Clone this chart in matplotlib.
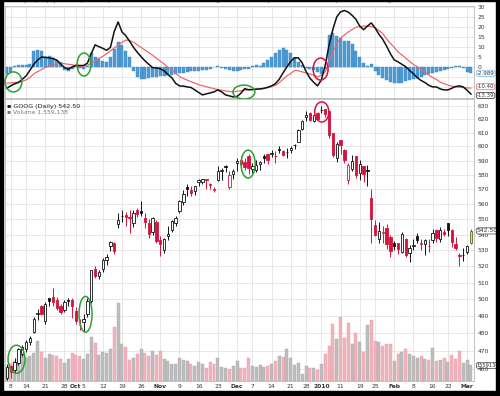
import matplotlib.pyplot as plt
from matplotlib.patches import Rectangle, Ellipse
from matplotlib.ticker import NullLocator

# daily GOOG bars, 4-Sep-2009 .. 2-Mar-2010 (index = trading day)
opens = [455.1, 461.5, 459.5, 463.5, 468.5, 471.0, 475.0, 481.0, 491.0, 496.0,
         487.0, 500.5, 501.5, 499.5, 496.0, 493.5, 499.5, 499.5, 493.0, 485.0,
         486.5, 491.0, 499.0, 518.5, 514.0, 518.5, 524.0, 532.5, 534.5, 547.3,
         552.5, 553.0, 551.5, 547.5, 556.0, 555.8, 551.0, 547.5, 541.5, 548.5,
         536.5, 530.0, 539.0, 543.0, 547.5, 555.5, 561.5, 572.0, 569.5, 569.0,
         575.0, 574.9, 576.9, 573.8, 569.5, 576.5, 582.5, 586.0, 572.0, 580.5,
         588.0, 590.5, 589.0, 593.0, 584.0, 583.5, 587.5, 593.5, 594.5, 595.0,
         593.5, 598.5, 596.5, 596.0, 597.5, 601.0, 603.5, 612.5, 621.5, 624.5,
         618.5, 624.5, 626.9, 627.2, 625.9, 609.4, 592.0, 604.5, 597.7, 576.5,
         583.9, 593.3, 581.2, 585.9, 583.4, 564.5, 546.6, 537.0, 541.3, 544.5,
         538.5, 534.6, 535.0, 528.7, 537.0, 528.4, 532.5, 539.5, 534.1, 534.0,
         533.0, 536.9, 543.0, 537.5, 541.5, 547.4, 543.0, 534.0, 527.1, 527.4,
         529.2, 535.0]
highs = [462.6, 462.0, 466.0, 472.0, 473.5, 476.5, 478.5, 489.5, 494.0, 496.5,
         498.5, 501.0, 507.0, 501.5, 497.0, 499.5, 501.0, 500.5, 495.5, 488.5,
         491.0, 500.5, 517.8, 520.0, 518.0, 525.0, 527.5, 536.0, 535.5, 554.5,
         556.0, 555.0, 556.5, 556.0, 557.5, 562.0, 554.5, 550.0, 551.5, 549.5,
         539.5, 538.0, 545.5, 549.5, 552.0, 563.0, 569.5, 573.5, 572.5, 572.5,
         577.0, 577.5, 577.5, 574.5, 571.5, 586.5, 584.5, 587.0, 582.5, 584.0,
         591.5, 593.5, 591.5, 595.0, 588.5, 590.5, 589.5, 595.0, 595.0, 597.5,
         596.5, 600.5, 597.5, 599.0, 600.0, 601.5, 613.0, 619.0, 626.0, 625.0,
         622.8, 625.5, 629.5, 627.8, 625.9, 610.0, 603.2, 604.5, 598.2, 588.4,
         594.2, 593.3, 590.4, 585.9, 586.8, 570.6, 549.9, 548.6, 546.0, 547.0,
         540.0, 535.8, 535.0, 542.1, 538.0, 533.5, 537.1, 541.0, 537.1, 537.0,
         537.2, 544.0, 543.6, 545.0, 544.0, 547.5, 543.6, 538.4, 528.5, 531.8,
         533.5, 544.0]
lows = [454.3, 455.0, 458.5, 462.5, 467.5, 469.5, 473.5, 480.0, 488.0, 490.5,
        485.5, 496.0, 496.0, 493.5, 491.0, 492.5, 496.0, 489.0, 485.5, 482.0,
        481.5, 489.5, 498.0, 513.0, 512.0, 516.5, 521.0, 529.5, 527.5, 544.5,
        548.0, 546.0, 541.0, 545.0, 551.5, 552.5, 544.5, 538.0, 540.0, 534.5,
        526.5, 528.5, 536.5, 542.0, 545.5, 554.0, 559.5, 565.5, 565.5, 566.5,
        572.5, 573.5, 570.0, 570.0, 568.0, 575.5, 576.5, 582.0, 570.5, 577.0,
        583.0, 586.0, 583.5, 580.5, 581.0, 582.0, 583.5, 588.5, 587.5, 592.5,
        588.5, 595.5, 593.0, 592.0, 595.5, 598.5, 603.0, 612.0, 618.5, 618.5,
        618.0, 619.5, 624.2, 621.5, 606.4, 592.6, 589.1, 594.3, 588.0, 573.9,
        582.8, 578.0, 576.3, 575.3, 572.3, 534.9, 539.3, 535.0, 534.7, 530.6,
        525.6, 530.3, 527.6, 528.2, 525.6, 522.5, 530.0, 535.0, 530.0, 527.0,
        529.0, 534.6, 535.6, 535.1, 539.0, 539.1, 532.3, 530.4, 520.0, 523.5,
        527.5, 534.0]
closes = [461.3, 458.6, 464.0, 470.9, 472.1, 475.1, 477.5, 488.3, 491.7, 491.5,
          497.0, 499.1, 498.5, 494.5, 492.5, 498.5, 498.7, 495.9, 487.2, 484.6,
          488.5, 498.7, 517.5, 514.2, 516.3, 524.0, 526.1, 535.3, 529.9, 549.9,
          552.1, 551.7, 551.1, 554.1, 553.7, 554.2, 548.3, 540.3, 551.1, 536.1,
          534.0, 537.3, 540.3, 548.7, 551.1, 562.5, 566.8, 570.6, 567.9, 572.1,
          576.3, 577.5, 576.7, 573.0, 570.0, 582.4, 583.1, 585.7, 579.8, 583.0,
          589.9, 587.5, 585.7, 585.0, 586.3, 587.1, 589.0, 591.5, 590.5, 595.7,
          593.1, 597.8, 593.9, 596.4, 598.7, 601.1, 611.7, 618.5, 622.9, 619.4,
          622.7, 620.0, 626.8, 624.0, 608.3, 594.1, 602.0, 601.1, 590.5, 587.1,
          589.9, 580.0, 587.6, 580.4, 583.0, 550.0, 540.0, 542.4, 542.1, 534.3,
          529.9, 533.0, 531.1, 540.8, 526.8, 531.3, 533.5, 536.4, 534.5, 536.4,
          533.1, 541.3, 538.2, 543.2, 540.8, 542.8, 535.1, 531.5, 526.4, 526.8,
          532.7, 542.5]
prev_close = 455.0
volumes = [1.3, 1.8, 2.0, 2.3, 2.7, 2.3, 2.5, 2.8, 4.0, 2.9,
           2.3, 2.7, 2.6, 2.5, 2.2, 1.8, 2.2, 2.8, 2.6, 2.5,
           2.2, 2.7, 4.4, 3.8, 2.6, 2.9, 2.8, 3.2, 5.4, 7.8,
           3.7, 3.4, 2.1, 2.3, 2.7, 3.2, 2.8, 2.5, 3.0, 2.6,
           3.0, 2.2, 2.0, 1.7, 1.7, 2.3, 2.1, 2.0, 1.7, 1.5,
           1.9, 1.7, 1.3, 1.9, 1.7, 2.3, 1.4, 1.3, 1.2, 1.5,
           2.0, 1.3, 1.3, 2.3, 1.5, 1.4, 1.6, 1.4, 1.5, 1.7,
           2.0, 2.5, 2.4, 3.2, 2.3, 1.6, 1.8, 0.7, 1.5, 1.3,
           1.3, 1.1, 1.7, 2.7, 3.5, 5.7, 4.2, 6.4, 4.3, 5.8,
           3.7, 4.8, 3.9, 2.9, 5.6, 6.1, 4.0, 3.9, 3.5, 3.7,
           3.7, 2.0, 2.7, 2.9, 3.2, 2.7, 2.5, 2.3, 2.5, 2.2,
           2.1, 3.3, 2.0, 2.1, 2.3, 1.9, 2.6, 2.2, 3.0, 1.8,
           2.1, 1.559138]

macd = [-10.5, -9.2, -8.3, -7.6, -6.0, -4.3, -1.5, 1.5, 3.6, 5.1,
        5.0, 4.7, 4.4, 3.6, 1.7, -0.1, -1.0, 0.2, 1.0, 0.9,
        0.9, 2.1, 6.9, 11.2, 10.3, 9.5, 8.5, 10.0, 18.0, 22.7,
        17.7, 15.8, 13.0, 10.0, 7.5, 5.3, 3.2, 1.5, -0.2, -0.3,
        -0.7, -1.8, -3.7, -5.2, -8.0, -9.3, -9.4, -9.8, -10.1, -11.3,
        -12.6, -13.8, -13.3, -12.8, -12.3, -11.3, -12.3, -13.8, -14.3, -14.8,
        -14.6, -13.0, -10.7, -11.2, -11.1, -10.9, -10.8, -10.5, -10.0, -9.3,
        -8.2, -6.0, -2.8, 0.2, 2.9, 4.8, 4.7, 2.2, -2.1, -5.4,
        -7.5, -9.3, -6.3, 1.0, 11.0, 19.0, 25.2, 27.7, 28.4, 27.6,
        26.0, 24.0, 20.6, 18.8, 20.6, 22.2, 19.7, 16.5, 14.0, 10.6,
        6.8, 3.7, 2.7, 1.5, 0.3, -1.6, -3.2, -5.2, -6.6, -7.6,
        -9.0, -9.8, -9.8, -10.8, -11.3, -11.3, -10.5, -9.6, -9.3, -9.8,
        -11.5, -13.39]
signal = [-7.9, -7.8, -7.6, -7.4, -7.0, -6.3, -5.1, -3.3, -2.2, -1.1,
          -0.1, 0.5, 1.1, 2.0, 2.0, 1.8, 1.5, 1.3, 0.8, 0.3,
          0.6, 1.1, 1.9, 3.0, 4.5, 5.5, 6.8, 8.2, 9.7, 11.0,
          12.5, 13.6, 13.4, 12.5, 11.2, 9.9, 8.6, 7.3, 6.0, 4.5,
          3.1, 1.6, 0.0, -1.5, -3.0, -4.6, -5.6, -6.4, -7.2, -7.9,
          -8.7, -9.2, -9.7, -10.2, -10.7, -11.1, -11.5, -11.8, -12.1, -12.3,
          -12.0, -11.7, -11.4, -11.3, -11.2, -11.1, -10.9, -10.6, -10.2, -9.7,
          -9.0, -7.7, -6.0, -4.3, -3.1, -1.6, -1.7, -2.3, -2.8, -3.3,
          -4.0, -4.7, -4.0, -2.3, 2.0, 7.6, 11.8, 14.6, 16.2, 17.6,
          18.8, 20.0, 20.3, 20.6, 20.6, 20.4, 19.8, 18.4, 16.9, 14.2,
          12.0, 10.0, 7.6, 6.2, 4.6, 3.0, 1.4, 0.4, -1.1, -2.4,
          -3.9, -5.1, -6.1, -7.4, -8.2, -8.9, -9.4, -9.8, -10.0, -10.1,
          -10.3, -10.40]
hist = [-3.5, -2.5, 0.5, 1.0, 1.0, 1.0, 1.5, 8.0, 8.5, 8.0,
        5.0, 5.5, 4.5, 3.5, 2.5, -1.5, -2.0, -1.0, 0.5, -0.5,
        -1.0, 0.5, 7.0, 5.0, 4.0, 3.0, 2.5, 5.0, 9.0, 12.5,
        11.0, 8.0, 5.0, -2.0, -5.0, -6.0, -6.0, -5.5, -5.0, -5.0,
        -4.5, -4.5, -4.0, -4.0, -3.5, -3.0, -3.0, -2.5, -2.0, -2.0,
        -2.0, -1.5, -1.5, -1.0, 0.0, 0.5, -0.5, -1.0, -1.5, -2.0,
        -2.0, -1.5, -1.0, -1.0, 0.5, 1.0, 0.5, 2.0, 3.5, 5.0,
        7.0, 8.5, 9.5, 8.5, 7.0, 4.5, 2.5, 1.0, -0.5, -1.0,
        -1.5, -2.5, -3.5, -1.0, 16.0, 17.0, 15.5, 14.5, 13.0, 13.0,
        11.5, 8.0, 5.0, 2.0, 0.5, 1.5, -2.0, -4.0, -5.5, -6.5,
        -7.5, -8.0, -8.0, -8.0, -7.0, -6.5, -6.0, -5.5, -5.0, -4.0,
        -3.5, -3.0, -2.5, -2.0, -1.5, -1.0, -0.5, 0.5, 0.5, -0.5,
        -2.5, -2.989]

tick_days = [1, 5, 10, 15, 18, 20, 25, 30, 35, 40, 45, 50, 55, 60, 64, 69, 74,
             78, 82, 87, 92, 96, 101, 106, 111, 115, 120]
tick_labels = ['8', '14', '21', '28', 'Oct', '5', '12', '19', '26', 'Nov', '9',
               '16', '23', 'Dec', '7', '14', '21', '28', '2010', '11', '19',
               '25', 'Feb', '8', '16', '22', 'Mar']
month_labels = ['Oct', 'Nov', 'Dec', '2010', 'Feb', 'Mar']
price_ticks = list(range(460, 631, 10))
macd_ticks = list(range(-10, 31, 5))

# annotation circles: (day, value, width in days, height in value units, colour)
macd_circles = [(1.7, -7.3, 4.4, 10.0, 'g'), (20.1, 1.4, 3.6, 11.5, 'g'),
                (61.8, -12.4, 5.7, 7.0, 'g'), (81.8, -0.9, 3.9, 11.0, 'r')]
price_circles = [(2.5, 465.5, 4.4, 15.6, 'g'), (20.5, 491.2, 3.4, 21.0, 'g'),
                 (62.9, 587.6, 3.7, 19.6, 'g'), (82.1, 625.3, 3.7, 15.0, 'r')]

RED = '#d3143c'
GREEN = '#2e9e37'
GRID = '#e3e3e3'
TXT = '#333333'
FS = 4.3
W, H = 500, 396

fig = plt.figure(figsize=(W / 100, H / 100), dpi=100)


def rect(left, top, right, bottom):
    return [left / W, 1 - bottom / H, (right - left) / W, (bottom - top) / H]


def value_box(axis, val, txt, ec, dy=0.0, size=FS):
    axis.annotate(txt, xy=(1.006, val), xycoords=axis.get_yaxis_transform(),
                  xytext=(0, dy), textcoords='offset points',
                  fontsize=size, color=TXT, va='center', ha='left',
                  annotation_clip=False,
                  bbox=dict(boxstyle='round,pad=0.1,rounding_size=0.4',
                            fc='white', ec=ec, lw=0.5))


ax_m = fig.add_axes(rect(5, 6, 474, 98))
ax_bg = fig.add_axes(rect(5, 99, 474, 381), zorder=0)
ax_v = fig.add_axes(rect(5, 99, 474, 381), zorder=1, facecolor='none')
ax = fig.add_axes(rect(5, 99, 474, 381), zorder=2, facecolor='none',
                  sharex=ax_bg, sharey=ax_bg)

idx = list(range(len(closes)))
xlim = (-0.5, 121.8)

# ---- price panel background / grid
ax_bg.set_yscale('log')
ax_bg.set_ylim(453.5, 635.0)
ax_bg.set_xlim(*xlim)
ax_bg.set_xticks(tick_days)
ax_bg.set_yticks(price_ticks)
ax_bg.yaxis.set_minor_locator(NullLocator())
ax_bg.grid(True, color=GRID, lw=0.6)
ax_bg.tick_params(labelleft=False, labelbottom=False, length=0)
for s in ax_bg.spines.values():
    s.set_color('#b8b8b8')
    s.set_linewidth(0.6)

# ---- volume
prevs = [prev_close] + closes[:-1]
up = [c >= p for c, p in zip(closes, prevs)]
vol_face = ['#bdbdbd' if u else '#f1b3bc' for u in up]
vol_edge = ['#a9a9a9' if u else '#e59aa5' for u in up]
ax_v.bar(idx, volumes, width=0.78, color=vol_face, edgecolor=vol_edge, lw=0.3)
ax_v.set_xlim(*xlim)
ax_v.set_ylim(0, 28.2)
ax_v.axis('off')
value_box(ax_v, volumes[-1], '1559138', '#444444', size=3.7)

# ---- candles
edge = ['#111111' if u else RED for u in up]
face = ['white' if c >= o else e for o, c, e in zip(opens, closes, edge)]
face[-1] = '#f0e04a'
edge[-1] = '#666633'
body_lo = [min(o, c) for o, c in zip(opens, closes)]
body_h = [abs(c - o) for o, c in zip(opens, closes)]
ax.vlines(idx, lows, highs, colors=edge, lw=0.7, zorder=2)
ax.bar(idx, body_h, bottom=body_lo, width=0.62, color=face, edgecolor=edge,
       lw=0.6, zorder=3)
for d, v, w, h, c in price_circles:
    ax.add_patch(Ellipse((d, v), w, h, fill=False, ec=GREEN if c == 'g' else RED,
                         lw=1.1, zorder=4, clip_on=False))

ax.yaxis.tick_right()
ax.set_yticks(price_ticks)
ax.set_yticklabels([str(p) for p in price_ticks])
ax.yaxis.set_minor_locator(NullLocator())
ax.set_xticks(tick_days)
ax.set_xticklabels(tick_labels)
ax.tick_params(axis='both', length=0, labelsize=FS, colors=TXT)
ax.tick_params(axis='y', pad=2.5)
ax.tick_params(axis='x', pad=1.8)
for lab in ax.get_xticklabels():
    if lab.get_text() in month_labels:
        lab.set_fontweight('bold')
for s in ax.spines.values():
    s.set_visible(False)

value_box(ax, closes[-1], '542.50', '#444444')
ax.text(0.004, 0.973, '\u25aa GOOG (Daily) 542.50', transform=ax.transAxes,
        fontsize=4.6, color='#222222', va='center', ha='left')
ax.text(0.004, 0.953, '\u25aa Volume 1,559,138', transform=ax.transAxes,
        fontsize=4.3, color='#777777', va='center', ha='left')

# ---- MACD panel
ax_m.bar(idx, hist, width=0.78, color='#4d9ad4', edgecolor='#3a86c2', lw=0.3)
ax_m.plot(idx, signal, color='#e8696b', lw=0.9)
ax_m.plot(idx, macd, color='#111111', lw=1.1)
for d, v, w, h, c in macd_circles:
    ax_m.add_patch(Ellipse((d, v), w, h, fill=False, ec=GREEN if c == 'g' else RED,
                           lw=1.1, zorder=4, clip_on=False))
ax_m.set_xlim(*xlim)
ax_m.set_ylim(-15.35, 30.65)
ax_m.set_xticks(tick_days)
ax_m.set_yticks(macd_ticks)
# the negative levels are hidden behind the value boxes
ax_m.set_yticklabels([str(t) if t >= 0 else '' for t in macd_ticks])
ax_m.yaxis.tick_right()
ax_m.grid(True, color=GRID, lw=0.6)
ax_m.set_axisbelow(True)
ax_m.tick_params(axis='both', length=0, labelsize=FS, colors=TXT)
ax_m.tick_params(axis='x', labelbottom=False)
ax_m.tick_params(axis='y', pad=2.5)
for s in ax_m.spines.values():
    s.set_color('#b8b8b8')
    s.set_linewidth(0.6)
value_box(ax_m, hist[-1], '-2.989', '#6fb3e3', size=4.0)
value_box(ax_m, signal[-1], '-10.40', '#e06666', dy=1.0, size=3.9)
value_box(ax_m, macd[-1], '-13.39', '#222222', dy=-1.0, size=3.9)

# title line cut off by the top edge
fig.text(0.006, 1.0, 'MACD(12,26,9) -13.39, -10.40, -2.989', fontsize=5,
         color='#555555', va='center', ha='left')
fig.text(0.935, 1.0, 'GOOG Google Inc. Nasdaq GS  2-Mar-2010  Open 535.00  High 544.00  Low 534.00',
         fontsize=5, color='#555555', va='center', ha='right')

# black frame round the picture
for x0, y0, w, h in [(0, 0, 3, H), (496, 0, 4, H), (0, 0, W, 5), (0, H - 1.2, W, 1.2)]:
    fig.add_artist(Rectangle((x0 / W, y0 / H), w / W, h / H, color='black',
                             transform=fig.transFigure, zorder=10))

fig.savefig('out.png', dpi=100)
